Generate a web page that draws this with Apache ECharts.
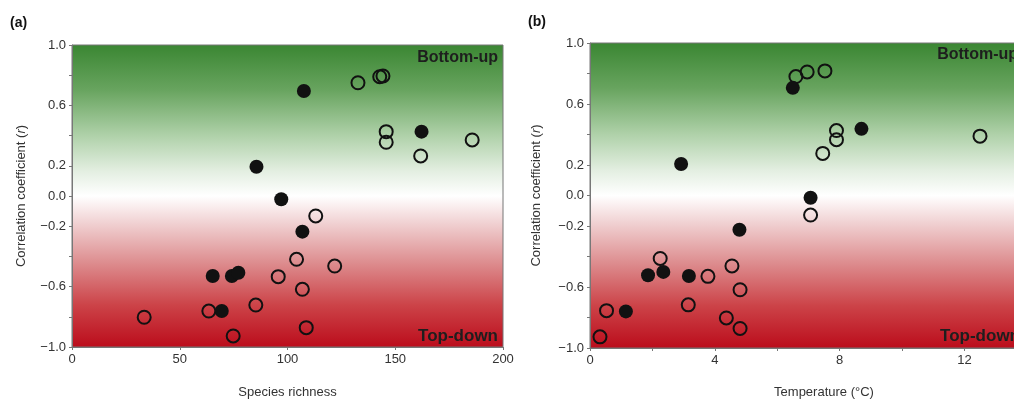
<!DOCTYPE html>
<html>
<head>
<meta charset="utf-8">
<script src="https://cdn.jsdelivr.net/npm/echarts@6/dist/echarts.min.js"></script>
<style>
  html, body { margin: 0; padding: 0; background: #fff; }
  #chart { width: 1014px; height: 402px; }
</style>
</head>
<body>
<div id="chart"></div>
<script>
// panel (a): species richness vs r
var richFilled = [[107.6, 0.695], [162.2, 0.426], [85.6, 0.194], [97.1, -0.022], [106.9, -0.236],
  [65.3, -0.53], [74.2, -0.53], [77.2, -0.508], [69.5, -0.762]];
var richOpen = [[132.7, 0.75], [142.8, 0.79], [144.3, 0.795], [145.8, 0.426], [145.8, 0.356],
  [185.7, 0.371], [161.8, 0.265], [113.1, -0.132], [104.2, -0.419], [121.9, -0.464],
  [95.7, -0.534], [106.9, -0.618], [85.3, -0.722], [63.5, -0.762], [33.5, -0.803],
  [108.7, -0.872], [74.8, -0.927]];
// panel (b): temperature vs r
var tempFilled = [[6.5, 0.706], [8.7, 0.437], [2.92, 0.207], [7.07, -0.015], [4.79, -0.225],
  [1.86, -0.523], [2.35, -0.501], [3.17, -0.528], [1.15, -0.76]];
var tempOpen = [[6.6, 0.78], [6.96, 0.81], [7.53, 0.817], [7.9, 0.426], [7.9, 0.366],
  [12.5, 0.389], [7.46, 0.276], [7.07, -0.128], [2.25, -0.413], [4.55, -0.462],
  [3.78, -0.53], [4.81, -0.618], [3.15, -0.717], [0.53, -0.755], [4.37, -0.803],
  [4.81, -0.872], [0.32, -0.927]];

var yShownLabels = ['1.0', '0.6', '0.2', '0.0', '-0.2', '-0.6', '-1.0'];
var tempShownLabels = [0, 4, 8, 12];

var font = '"Liberation Sans", Arial, sans-serif';

var bg = {
  type: 'linear', x: 0, y: 0, x2: 0, y2: 1,
  colorStops: [
    { offset: 0, color: '#3a8632' },
    { offset: 0.15, color: '#68a45f' },
    { offset: 0.3, color: '#afd1a9' },
    { offset: 0.42, color: '#e4efe2' },
    { offset: 0.5, color: '#ffffff' },
    { offset: 0.58, color: '#f2d6d7' },
    { offset: 0.72, color: '#dd8d8f' },
    { offset: 0.86, color: '#cc4348' },
    { offset: 1, color: '#bb0c1b' }
  ]
};

function yAxis(idx, gap) {
  return {
    gridIndex: idx, type: 'value', min: -1, max: 1, interval: 0.2,
    name: '{a|Correlation coefficient (}{i|r}{a|)}',
    nameLocation: 'middle', nameGap: gap, nameRotate: 90,
    nameTextStyle: { rich: {
      a: { fontSize: 13, color: '#333', fontFamily: font },
      i: { fontSize: 13, color: '#333', fontFamily: font, fontStyle: 'italic' }
    } },
    axisLine: { show: true, onZero: false, lineStyle: { color: '#777', width: 1 } },
    axisTick: { show: true, length: 3, lineStyle: { color: '#777' } },
    splitLine: { show: false },
    axisLabel: {
      margin: 6, fontSize: 13, color: '#333', fontFamily: font,
      formatter: function (v) {
        var s = v.toFixed(1);
        if (s === '-0.0') s = '0.0';
        return yShownLabels.indexOf(s) >= 0 ? s.replace('-', '\u2212') : '';
      }
    }
  };
}

function xAxisBase(idx, min, max, interval, name, gap) {
  return {
    gridIndex: idx, type: 'value', min: min, max: max, interval: interval,
    name: name, nameLocation: 'middle', nameGap: gap,
    nameTextStyle: { fontSize: 13, color: '#333', fontFamily: font },
    axisLine: { show: true, onZero: false, lineStyle: { color: '#777' } },
    axisTick: { show: true, length: 3, lineStyle: { color: '#777' } },
    splitLine: { show: false },
    axisLabel: { margin: 6, fontSize: 13, color: '#333', fontFamily: font }
  };
}

var xA = xAxisBase(0, 0, 200, 50, 'Species richness', 39);
var xB = xAxisBase(1, 0, 15, 2, 'Temperature (\u00b0C)', 38);
xB.axisLabel.formatter = function (v) {
  var n = Math.round(v);
  return tempShownLabels.indexOf(n) >= 0 ? String(n) : '';
};

var openStyle = { color: 'rgba(0,0,0,0)', borderColor: '#111', borderWidth: 2, opacity: 1 };
var filledStyle = { color: '#111', opacity: 1 };

var chart = echarts.init(document.getElementById('chart'));
var option = {
  animation: false,
  grid: [
    { left: 72, top: 45, width: 431, height: 302, show: true, backgroundColor: bg, borderColor: '#777', borderWidth: 1, outerBoundsMode: 'none', containLabel: false },
    { left: 590, top: 43, width: 468, height: 305, show: true, backgroundColor: bg, borderColor: '#777', borderWidth: 1, outerBoundsMode: 'none', containLabel: false }
  ],
  xAxis: [xA, xB],
  yAxis: [yAxis(0, 44), yAxis(1, 47)],
  series: [
    { type: 'scatter', xAxisIndex: 0, yAxisIndex: 0, data: richOpen, symbolSize: 13, itemStyle: openStyle },
    { type: 'scatter', xAxisIndex: 0, yAxisIndex: 0, data: richFilled, symbolSize: 14, itemStyle: filledStyle },
    { type: 'scatter', xAxisIndex: 1, yAxisIndex: 1, data: tempOpen, symbolSize: 13, itemStyle: openStyle },
    { type: 'scatter', xAxisIndex: 1, yAxisIndex: 1, data: tempFilled, symbolSize: 14, itemStyle: filledStyle }
  ],
  graphic: [
    { type: 'text', left: 10, top: 16, style: { text: '(a)', font: 'bold 14px ' + font, fill: '#111' } },
    { type: 'text', left: 528, top: 15, style: { text: '(b)', font: 'bold 14px ' + font, fill: '#111' } },
    { type: 'text', x: 498, y: 58, style: { text: 'Bottom-up', font: 'bold 16px ' + font, fill: '#1e1e1e', align: 'right', verticalAlign: 'middle' } },
    { type: 'text', x: 498, y: 336, style: { text: 'Top-down', font: 'bold 17px ' + font, fill: '#1e1e1e', align: 'right', verticalAlign: 'middle' } },
    { type: 'text', x: 1018, y: 55, style: { text: 'Bottom-up', font: 'bold 16px ' + font, fill: '#1e1e1e', align: 'right', verticalAlign: 'middle' } },
    { type: 'text', x: 1020, y: 336, style: { text: 'Top-down', font: 'bold 17px ' + font, fill: '#1e1e1e', align: 'right', verticalAlign: 'middle' } }
  ]
};
chart.setOption(option);
window.onresize = function () { chart.resize(); };
</script>
</body>
</html>
